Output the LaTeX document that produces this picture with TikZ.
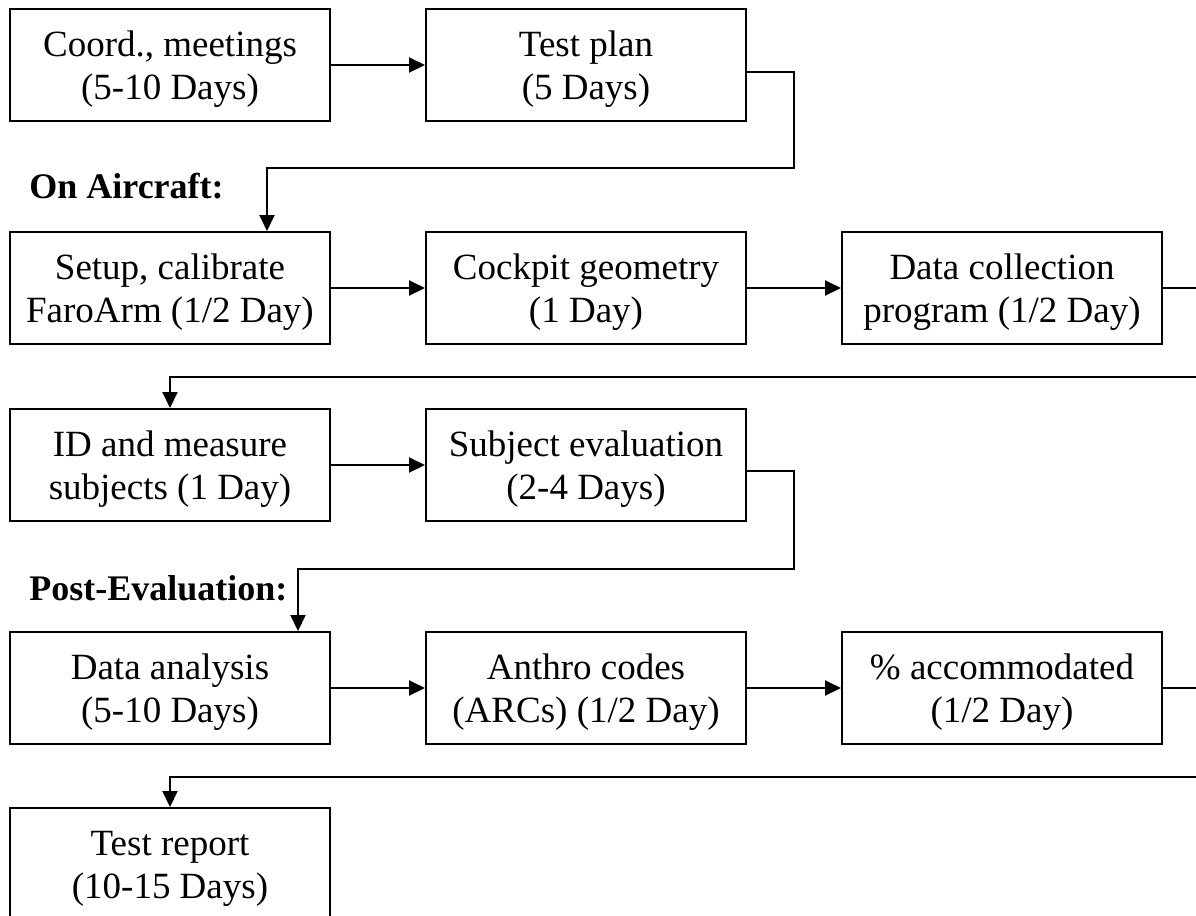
\documentclass[tikz,border=0pt]{standalone}
\usepackage{fontspec}
\setmainfont{Liberation Serif}
\usetikzlibrary{arrows.meta}
\begin{document}
\begin{tikzpicture}[x=0.5pt, y=-0.5pt,
        box/.style={rectangle, draw, line width=1pt, minimum width=160pt, minimum height=56pt, inner sep=0pt, align=center, font=\fontsize{18.5pt}{21.5pt}\selectfont, execute at begin node={\rule{0pt}{38pt}}},
        lbl/.style={anchor=base west, inner sep=0pt, font=\fontsize{18pt}{21pt}\selectfont\bfseries},
        arr/.style={line width=1pt, -{Triangle[length=8pt, width=7.5pt]}}]
            \path[use as bounding box, clip] (0,0) rectangle (1196,916);
            \node[box] (CM) at (170,65) {Coord., meetings\\(5-10 Days)};
            \node[box] (TP) at (586,65) {Test plan\\(5 Days)};
            \node[lbl] (OA) at (29,198) {On Aircraft:};
            \node[box] (SC) at (170,288) {Setup, calibrate\\FaroArm (1/2 Day)};
            \node[box] (CG) at (586,288) {Cockpit geometry\\(1 Day)};
            \node[box] (DC) at (1002,288) {Data collection\\program (1/2 Day)};
            \node[box] (ID) at (170,465) {ID and measure\\subjects (1 Day)};
            \node[box] (SE) at (586,465) {Subject evaluation\\(2-4 Days)};
            \node[lbl] (PE) at (29,600) {Post-Evaluation:};
            \node[box] (DA) at (170,688) {Data analysis\\(5-10 Days)};
            \node[box] (AC) at (586,688) {Anthro codes\\(ARCs) (1/2 Day)};
            \node[box] (PA) at (1002,688) {\% accommodated\\(1/2 Day)};
            \node[box] (TR) at (170,864) {Test report\\(10-15 Days)};

            \draw[arr] (CM) -- (TP);
            \draw[arr] ([yshift=-3.5pt]TP.east) -| (794,168) -| ([xshift=48.5pt]SC.north);
            \draw[arr] (SC) -- (CG);
            \draw[arr] (CG) -- (DC);
            \draw[arr] (DC.east) -| (1220,377) -| (ID.north);
            \draw[arr] (ID) -- (SE);
            \draw[arr] ([yshift=-3pt]SE.east) -| (794,569) -| ([xshift=64pt]DA.north);
            \draw[arr] (DA) -- (AC);
            \draw[arr] (AC) -- (PA);
            \draw[arr] (PA.east) -| (1220,777) -| (TR.north);
        \end{tikzpicture}
\end{document}
